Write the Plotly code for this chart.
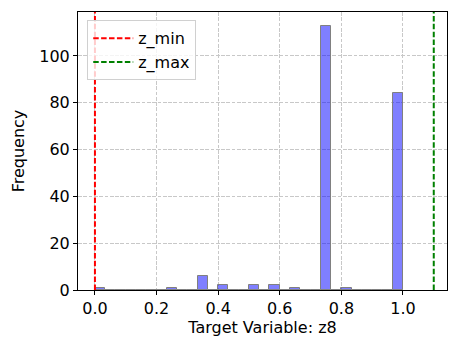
import numpy as np
import plotly.graph_objects as go

# histogram of z8: 30 equal bins between 0 and 1
bin_lo = 0.0
bin_hi = 1.0
counts = [1, 0, 0, 0, 0, 0, 0, 1, 0, 0,
          6, 0, 2, 0, 0, 2, 0, 2, 0, 1,
          0, 0, 113, 0, 1, 0, 0, 0, 0, 84]

z_min = 0.0
z_max = 1.1

x_ticks = [0.0, 0.2, 0.4, 0.6, 0.8, 1.0]
y_ticks = [0, 20, 40, 60, 80, 100]

edges = np.linspace(bin_lo, bin_hi, len(counts) + 1)
centers = (edges[:-1] + edges[1:]) / 2
width = edges[1] - edges[0]

y_top = 118.8

fig = go.Figure()

fig.add_trace(go.Bar(
    x=centers, y=counts, width=width,
    marker=dict(color="rgba(0,0,255,0.5)", line=dict(color="#808080", width=1)),
    showlegend=False,
))

fig.add_trace(go.Scatter(
    x=[z_min, z_min], y=[0, y_top], mode="lines", name="z_min",
    line=dict(color="red", width=2, dash="5.5px,2.4px"),
))
fig.add_trace(go.Scatter(
    x=[z_max, z_max], y=[0, y_top], mode="lines", name="z_max",
    line=dict(color="green", width=2, dash="5.5px,2.4px"),
))

font = dict(family="DejaVu Sans", size=16, color="black")

fig.update_layout(
    width=463, height=352,
    margin=dict(l=78, r=16, t=12, b=62),
    plot_bgcolor="white", paper_bgcolor="white",
    font=font,
    bargap=0,
    legend=dict(
        x=0.025, y=0.97, xanchor="left", yanchor="top",
        bgcolor="rgba(255,255,255,0.8)", bordercolor="#d0d0d0", borderwidth=1,
        font=font,
        itemwidth=40,
        tracegroupgap=0,
    ),
)

grid = dict(
    showline=True, linecolor="black", linewidth=1, mirror=True,
    ticks="outside", ticklen=4, tickcolor="black",
    showgrid=True, gridcolor="#c8c8c8", griddash="3.7px,1.6px", gridwidth=1,
    zeroline=False, tickfont=font,
)

fig.update_xaxes(
    range=[-0.055, 1.143], tickvals=x_ticks, tickformat=".1f",
    title=dict(text="Target Variable: z8", standoff=4, font=font),
    **grid,
)
fig.update_yaxes(
    range=[0, y_top], tickvals=y_ticks,
    title=dict(text="Frequency", standoff=10, font=font),
    **grid,
)

# the page body has an 8px margin by default; drop it so the chart sits at 0,0
fig.write_html(
    "out.html",
    config={"displayModeBar": False},
    post_script="document.body.style.margin='0';",
)
